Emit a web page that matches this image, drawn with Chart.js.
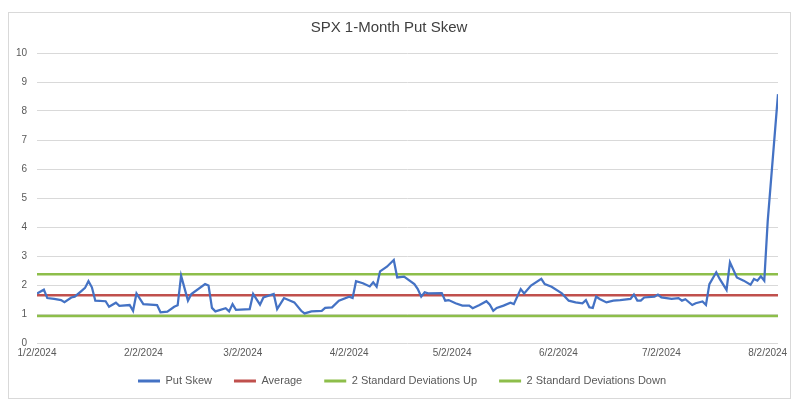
<!DOCTYPE html>
<html>
<head>
<meta charset="utf-8">
<script src="https://cdn.jsdelivr.net/npm/chart.js@4.4.1/dist/chart.umd.min.js"></script>
<style>
  html, body { margin: 0; padding: 0; background: #fff; }
  #wrap { width: 800px; height: 409px; }
</style>
</head>
<body>
<div id="wrap"><canvas id="chart" width="800" height="409"></canvas></div>
<script>
// x values are days since 1/2/2024
const tickDays = [0, 31, 60, 91, 121, 152, 182, 213]
const tickLabels = ['1/2/2024', '2/2/2024', '3/2/2024', '4/2/2024', '5/2/2024', '6/2/2024', '7/2/2024', '8/2/2024']

const skewDays = [
    0, 2, 3, 5, 7, 8, 10, 11, 13, 14, 15, 16, 17, 20, 21, 23, 24, 27, 28, 29,
    31, 35, 36, 38, 40, 41, 42, 44, 45, 49, 50, 51, 52, 55, 56, 57, 58, 62, 63, 65,
    66, 69, 70, 72, 75, 77, 78, 80, 83, 84, 86, 88, 91, 92, 93, 95, 97, 98, 99, 100,
    102, 104, 105, 107, 110, 111, 112, 113, 114, 118, 119, 120, 122, 124, 126, 127, 129, 131, 132, 133,
    134, 136, 138, 139, 141, 142, 144, 147, 148, 150, 153, 155, 157, 159, 160, 161, 162, 163, 164, 166,
    168, 170, 173, 174, 175, 176, 177, 180, 181, 182, 185, 187, 188, 189, 191, 192, 194, 195, 196, 198,
    199, 201, 202, 204, 206, 208, 209, 210, 211, 212, 213, 216
]
const skewValues = [
    1.71, 1.84, 1.55, 1.52, 1.48, 1.41, 1.57, 1.60, 1.80, 1.90, 2.13, 1.92, 1.46, 1.44, 1.25, 1.39, 1.28, 1.31, 1.11, 1.71,
    1.34, 1.31, 1.06, 1.08, 1.25, 1.30, 2.32, 1.46, 1.69, 2.03, 1.98, 1.21, 1.09, 1.20, 1.09, 1.34, 1.14, 1.17, 1.69, 1.32,
    1.57, 1.69, 1.17, 1.55, 1.40, 1.11, 1.02, 1.09, 1.11, 1.21, 1.23, 1.46, 1.60, 1.55, 2.13, 2.06, 1.95, 2.09, 1.94, 2.47,
    2.63, 2.86, 2.26, 2.29, 2.03, 1.86, 1.60, 1.75, 1.71, 1.72, 1.46, 1.48, 1.37, 1.29, 1.29, 1.20, 1.31, 1.44, 1.32, 1.11,
    1.21, 1.29, 1.39, 1.34, 1.86, 1.71, 1.98, 2.21, 2.03, 1.94, 1.71, 1.46, 1.40, 1.37, 1.48, 1.23, 1.21, 1.60, 1.52, 1.40,
    1.46, 1.48, 1.52, 1.67, 1.46, 1.46, 1.57, 1.60, 1.67, 1.57, 1.52, 1.55, 1.46, 1.51, 1.31, 1.37, 1.43, 1.31, 2.03, 2.44,
    2.21, 1.83, 2.78, 2.26, 2.15, 2.01, 2.21, 2.15, 2.30, 2.15, 4.20, 8.58
]

const firstDay = 0
const lastDay = 216
const average = 1.65
const twoSdUp = 2.37
const twoSdDown = 0.93

const blue = '#4472C4'
const red = '#C0504D'
const green = '#8DBE4A'
const grey = '#595959'

function flatLine(v) {
    return [{x: firstDay, y: v}, {x: lastDay, y: v}]
}

const frame = {
    id: 'frame',
    beforeDraw(chart) {
        const ctx = chart.ctx
        ctx.save()
        ctx.fillStyle = '#fff'
        ctx.fillRect(0, 0, chart.width, chart.height)
        ctx.strokeStyle = '#d9d9d9'
        ctx.lineWidth = 1
        ctx.strokeRect(8.5, 12.5, 782, 386)
        ctx.restore()

        // nudge the legend to sit where the reference has it
        const lg = chart.legend
        lg.top -= 11.5
        lg.bottom -= 11.5
        lg.left += 13
        lg.right += 13
    }
}

const lineStyle = {pointRadius: 0, pointHoverRadius: 0, tension: 0, fill: false}

const config = {
    type: 'line',
    data: {
        datasets: [
            Object.assign({
                label: 'Put Skew',
                data: skewDays.map(function (d, i) {return {x: d, y: skewValues[i]}}),
                borderColor: blue,
                backgroundColor: blue,
                borderWidth: 2.25,
            }, lineStyle),
            Object.assign({
                label: 'Average',
                data: flatLine(average),
                borderColor: red,
                backgroundColor: red,
                borderWidth: 2.5,
            }, lineStyle),
            Object.assign({
                label: '2 Standard Deviations Up',
                data: flatLine(twoSdUp),
                borderColor: green,
                backgroundColor: green,
                borderWidth: 2.5,
            }, lineStyle),
            Object.assign({
                label: '2 Standard Deviations Down',
                data: flatLine(twoSdDown),
                borderColor: green,
                backgroundColor: green,
                borderWidth: 2.5,
            }, lineStyle),
        ]
    },
    options: {
        responsive: false,
        animation: false,
        layout: {padding: {left: 0, right: 22, top: 0, bottom: 1}},
        plugins: {
            title: {
                display: true,
                text: 'SPX 1-Month Put Skew',
                color: '#404040',
                font: {family: 'Liberation Sans', size: 15, weight: 'normal'},
                padding: {top: 19, bottom: 16},
            },
            legend: {
                position: 'bottom',
                labels: {
                    boxWidth: 22,
                    boxHeight: 3,
                    padding: 22,
                    color: grey,
                    font: {family: 'Liberation Sans', size: 11},
                    generateLabels: function (chart) {
                        const items = Chart.defaults.plugins.legend.labels.generateLabels(chart)
                        items.forEach(function (item) {item.lineWidth = 0})
                        return items
                    },
                },
            },
            tooltip: {enabled: false},
        },
        scales: {
            x: {
                type: 'linear',
                min: firstDay,
                max: lastDay,
                grid: {display: false, drawTicks: false},
                border: {display: false},
                afterBuildTicks: function (scale) {
                    scale.ticks = tickDays.map(function (d) {return {value: d}})
                },
                afterFit: function (scale) {scale.height = 22},
                ticks: {
                    autoSkip: false,
                    maxRotation: 0,
                    padding: 4,
                    color: grey,
                    font: {family: 'Liberation Sans', size: 10},
                    callback: function (value) {
                        const i = tickDays.indexOf(value)
                        return i >= 0 ? tickLabels[i] : ''
                    },
                },
            },
            y: {
                min: 0,
                max: 10,
                grid: {color: '#d9d9d9', drawTicks: false},
                border: {display: false},
                afterFit: function (scale) {scale.width = 37},
                ticks: {
                    stepSize: 1,
                    padding: 10,
                    color: grey,
                    font: {family: 'Liberation Sans', size: 10},
                },
            },
        },
    },
    plugins: [frame],
}

const chart = new Chart(document.querySelector('#chart'), config)
</script>
</body>
</html>
